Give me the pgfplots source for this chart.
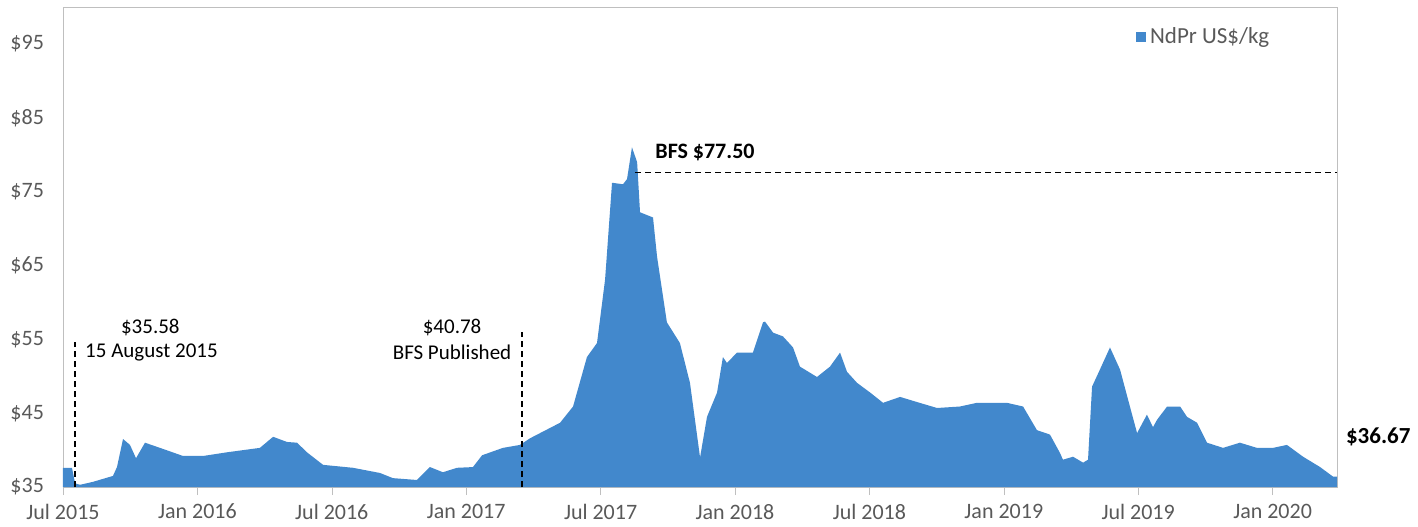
\documentclass[border=0pt]{standalone}
\usepackage{pgfplots}
\pgfplotsset{compat=1.18}
\usepackage{fontspec}
\setmainfont{Carlito}
\definecolor{ndpr}{RGB}{66,136,204}
\definecolor{lbl}{RGB}{89,89,89}
\definecolor{frame}{RGB}{191,191,191}
\begin{document}
\begin{tikzpicture}
\begin{axis}[
  scale only axis,
  at={(0,0)}, anchor=south west,
  width=637pt, height=240pt,
  xmin=0, xmax=56.875,
  ymin=35, ymax=100,
  clip=false,
  axis line style={draw=frame},
  xtick={0,6,12,18,24,30,36,42,48,54},
  xticklabels={Jul 2015,Jan 2016,Jul 2016,Jan 2017,Jul 2017,Jan 2018,Jul 2018,Jan 2019,Jul 2019,Jan 2020},
  ytick={35,45,55,65,75,85,95},
  yticklabels={\$35,\$45,\$55,\$65,\$75,\$85,\$95},
  tick label style={font=\fontsize{11}{13}\selectfont, text=lbl},
  xtick pos=bottom, ytick pos=left,
  tick align=outside,
  major tick length=4pt,
  xtick style={draw=frame},
  ytick style={draw=none},
  yticklabel style={xshift=-2pt},
  xticklabel style={yshift=-1pt},
  legend style={at={(0.955,0.975)}, anchor=north east, draw=none, fill=none,
    font=\fontsize{11.5}{13}\selectfont, text=lbl},
  legend image code/.code={\fill[ndpr] (0cm,-0.09cm) rectangle (0.18cm,0.09cm);},
]
\addplot[fill=ndpr, draw=none] coordinates {
(0.00,37.6) (0.40,37.6) (0.54,35.5) (0.76,35.3) (1.34,35.7) (2.23,36.5) (2.41,37.7)
(2.68,41.5) (2.99,40.7) (3.26,38.9) (3.66,41.0) (4.33,40.3) (5.36,39.2) (6.25,39.2)
(7.32,39.7) (8.79,40.3) (9.38,41.8) (10.00,41.1) (10.45,41.0) (10.89,39.7) (11.61,38.0)
(12.95,37.6) (14.15,36.9) (14.73,36.2) (15.80,35.95) (16.38,37.7) (16.96,37.0) (17.59,37.6)
(18.30,37.7) (18.71,39.3) (19.64,40.3) (20.40,40.7) (20.85,41.6) (22.19,43.7) (22.77,45.9)
(23.39,52.6) (23.84,54.5) (24.20,63.1) (24.51,76.2) (25.00,76.0) (25.18,76.7) (25.40,81.0)
(25.63,79.0) (25.76,72.2) (26.34,71.5) (26.52,66.2) (26.96,57.3) (27.54,54.5) (27.99,49.1)
(28.44,39.0) (28.75,44.5) (29.20,47.8) (29.46,52.6) (29.64,51.8) (30.09,53.2) (30.80,53.2)
(31.25,57.3) (31.34,57.4) (31.70,55.9) (32.14,55.4) (32.59,53.9) (32.90,51.3) (33.66,49.9)
(34.24,51.3) (34.69,53.2) (35.00,50.6) (35.45,49.1) (36.03,47.8) (36.61,46.4) (37.37,47.2)
(38.13,46.5) (39.02,45.7) (40.04,45.9) (40.80,46.4) (42.14,46.4) (42.86,45.9) (43.48,42.7)
(44.06,42.1) (44.51,39.6) (44.64,38.7) (45.09,39.1) (45.54,38.3) (45.76,38.7) (45.94,48.6)
(46.29,50.9) (46.74,53.9) (47.19,50.9) (47.63,45.9) (47.95,42.3) (48.39,44.8) (48.66,43.1)
(48.84,44.1) (49.29,45.9) (49.87,45.9) (50.18,44.5) (50.63,43.7) (51.07,41.0) (51.79,40.3)
(52.54,41.0) (53.30,40.3) (54.02,40.3) (54.64,40.7) (55.36,39.1) (56.12,37.7) (56.70,36.4)
(56.875,36.4)
} \closedcycle;
\addlegendentry{NdPr US\$/kg}
% annotations
\draw[black, densely dashed, line width=0.7pt] (axis cs:0.54,35) -- (axis cs:0.54,54.7);
\node[font=\fontsize{10.5}{12}\selectfont] at (axis cs:3.9,56.6) {\$35.58};
\node[font=\fontsize{10.5}{12}\selectfont] at (axis cs:3.95,53.2) {15 August 2015};
\draw[black, densely dashed, line width=0.7pt] (axis cs:20.49,35) -- (axis cs:20.49,56.0);
\node[font=\fontsize{10.5}{12}\selectfont] at (axis cs:17.37,56.6) {\$40.78};
\node[font=\fontsize{10.5}{12}\selectfont] at (axis cs:17.37,53.2) {BFS Published};
\draw[black, densely dashed, line width=0.7pt] (axis cs:25.54,77.6) -- (axis cs:56.875,77.6);
\node[font=\bfseries\fontsize{11}{13}\selectfont] at (axis cs:28.66,80.3) {BFS \$77.50};
\node[font=\bfseries\fontsize{11.5}{13}\selectfont, anchor=west] at (axis cs:56.875,41.8) {\hspace{1pt}\$36.67};
\end{axis}
\pgfresetboundingbox
\path[use as bounding box] (-31.5pt,-19.5pt) rectangle (677.5pt,243.5pt);
\end{tikzpicture}
\end{document}
